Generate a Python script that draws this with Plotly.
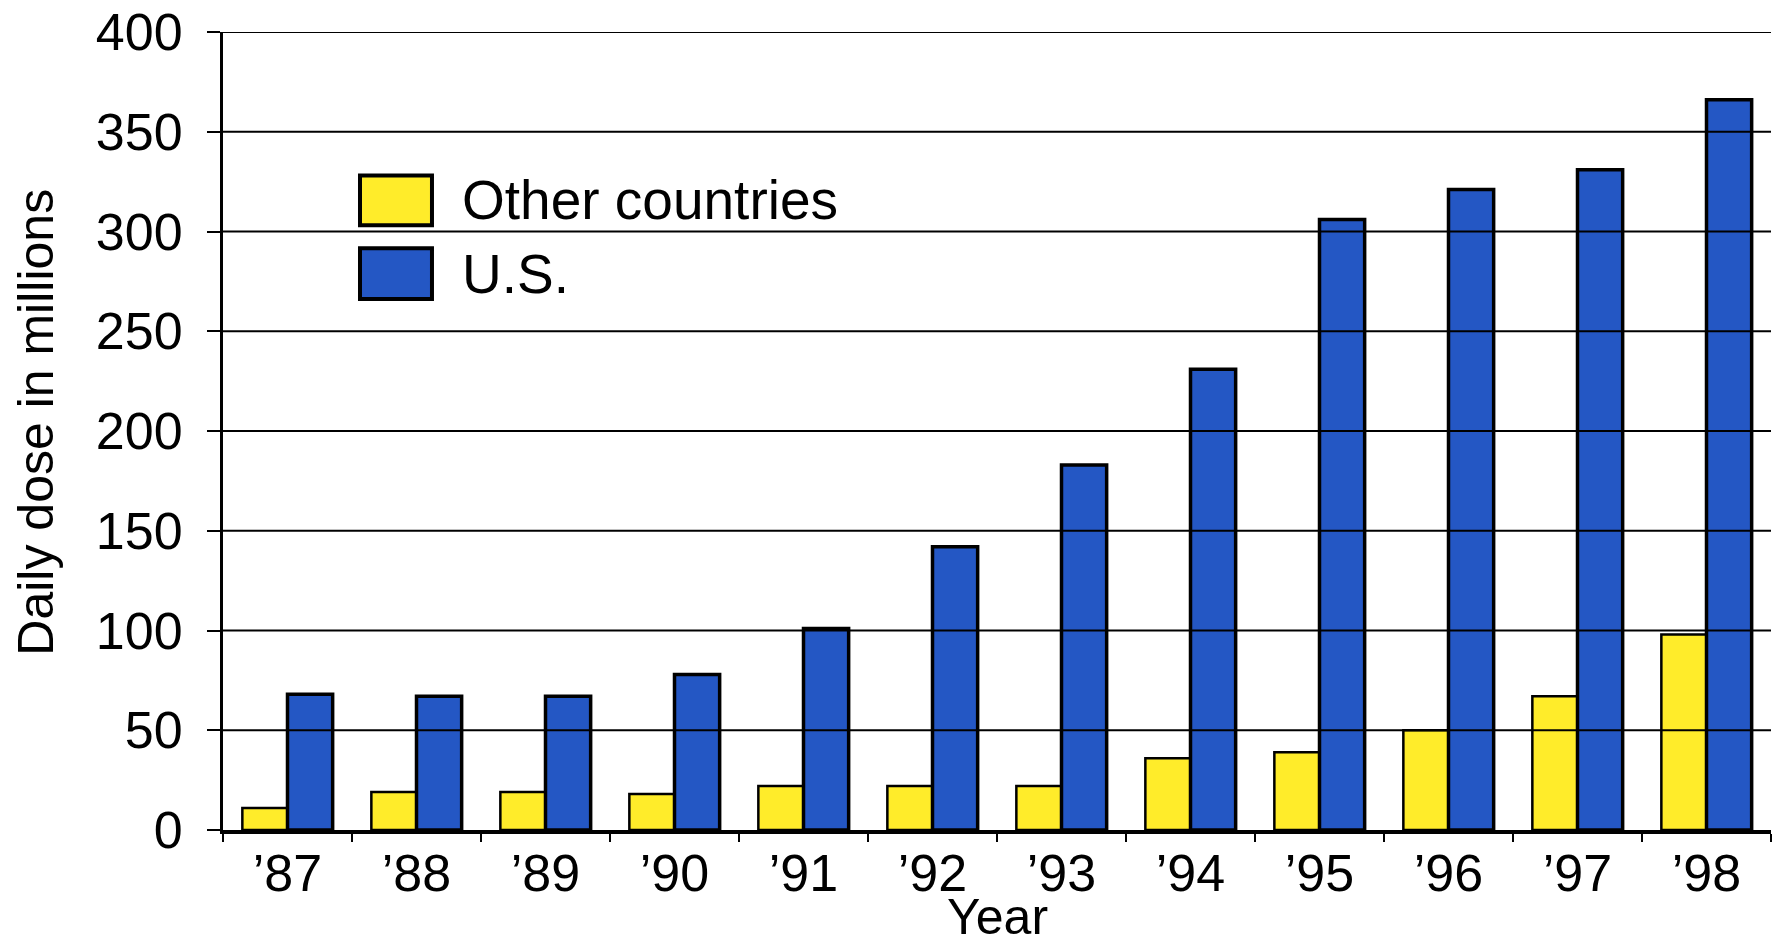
import plotly.graph_objects as go

# Daily dose (millions) by year
years = ["’87", "’88", "’89", "’90", "’91", "’92", "’93", "’94", "’95", "’96", "’97", "’98"]
other_countries = [11, 19, 19, 18, 22, 22, 22, 36, 39, 50, 67, 98]
us = [68, 67, 67, 78, 101, 142, 183, 231, 306, 321, 331, 366]
y_ticks = [0, 50, 100, 150, 200, 250, 300, 350, 400]

YELLOW = "#FFEC2A"
BLUE = "#2457C4"
FONT = "Liberation Sans, Arial, sans-serif"
TICK_FS = 52
LEGEND_FS = 55
TITLE_FS = 50

fig = go.Figure()
fig.add_trace(go.Bar(x=years, y=other_countries, name="Other countries",
                     marker=dict(color=YELLOW, line=dict(color="black", width=2.5)),
                     showlegend=False))
fig.add_trace(go.Bar(x=years, y=us, name="U.S.",
                     marker=dict(color=BLUE, line=dict(color="black", width=3.5)),
                     showlegend=False))

# horizontal grid drawn over the bars
shapes = []
for v in y_ticks[1:]:
    shapes.append(dict(type="line", xref="paper", yref="y", x0=0, x1=1, y0=v, y1=v,
                       line=dict(color="black", width=2), layer="above"))

# custom legend swatches
legend_items = [("Other countries", YELLOW, 0.8202, 0.7578),
                ("U.S.", BLUE, 0.7291, 0.6654)]
annotations = []
for label, color, top, bottom in legend_items:
    shapes.append(dict(type="rect", xref="paper", yref="paper",
                       x0=0.0885, x1=0.135, y0=bottom, y1=top,
                       fillcolor=color, line=dict(color="black", width=4), layer="above"))
    annotations.append(dict(text=label, xref="paper", yref="paper",
                            x=0.153, y=(top + bottom) / 2, xanchor="left", yanchor="middle",
                            showarrow=False, font=dict(family=FONT, size=LEGEND_FS, color="black")))

annotations.append(dict(text="Daily dose in millions", xref="paper", yref="paper",
                        x=-0.1205, y=0.511, xanchor="center", yanchor="middle",
                        textangle=-90, showarrow=False,
                        font=dict(family=FONT, size=TITLE_FS, color="black")))
annotations.append(dict(text="Year", xref="paper", yref="paper",
                        x=0.5, y=-0.1455, xanchor="center", yanchor="bottom",
                        borderpad=0, showarrow=False,
                        font=dict(family=FONT, size=TITLE_FS, color="black")))

fig.update_layout(
    width=1774, height=947,
    margin=dict(l=223, r=3, t=29, b=117),
    paper_bgcolor="white", plot_bgcolor="white",
    barmode="group", bargap=0.30, bargroupgap=0,
    font=dict(family=FONT, size=TICK_FS, color="black"),
    shapes=shapes, annotations=annotations,
    xaxis=dict(type="category", showline=True, linecolor="black", linewidth=4,
               ticks="outside", tickson="boundaries", ticklen=8, tickwidth=2,
               tickcolor="black", showgrid=False, layer="above traces",
               ticklabelstandoff=-5, tickfont=dict(family=FONT, size=TICK_FS)),
    yaxis=dict(range=[0, 400], tickvals=y_ticks, showline=True, linecolor="black",
               linewidth=3, ticks="outside", ticklen=13, tickwidth=2, tickcolor="black",
               showgrid=False, zeroline=False, layer="above traces",
               ticklabelstandoff=14, tickfont=dict(family=FONT, size=TICK_FS)),
)

fig.write_html("out.html")
